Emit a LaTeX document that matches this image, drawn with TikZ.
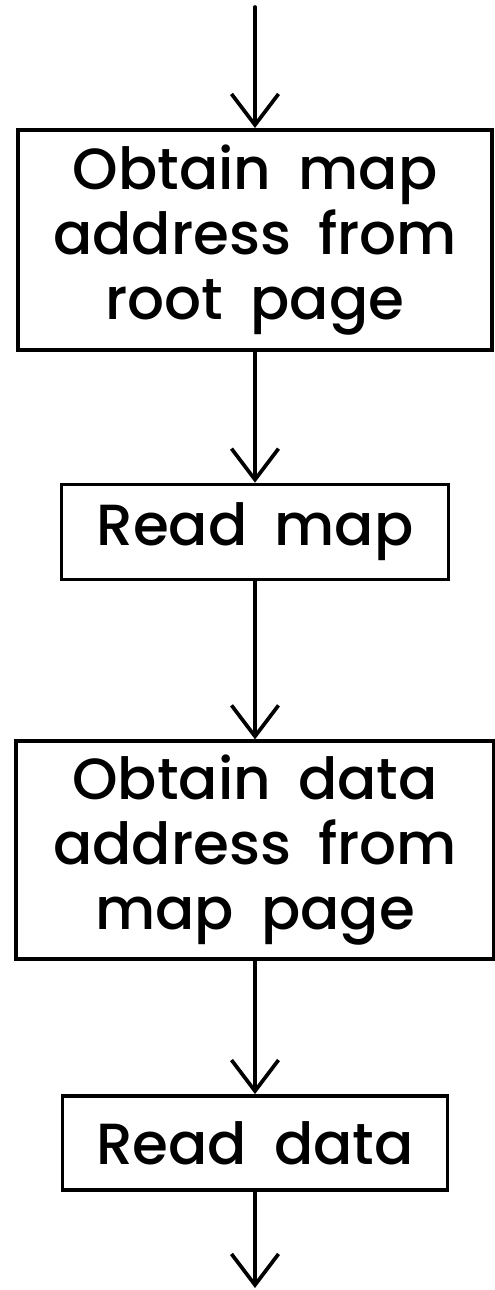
\documentclass[tikz,border=0pt]{standalone}
\usepackage{fontspec}
\setmainfont[WordSpace=1.8,UprightFont=* Medium]{Poppins}
\usetikzlibrary{arrows.meta,positioning}

\begin{document}
\begin{tikzpicture}[
		every node/.style = {shape=rectangle, draw, line width=2.1pt,
			align=center, inner sep=0pt,
			font=\fontsize{33}{37}\selectfont},
		flow/.style = {line width=2.1pt, line cap=round,
			-{Straight Barb[length=0.62cm, width=0.94cm, line width=2.1pt]}}]
		\useasboundingbox (0,0) rectangle (9.9,-25.8);
		\coordinate (in) at (5.1,-0.14);
		\node[minimum width=9.48cm, minimum height=4.4cm, anchor=north] (obtainmap) at (5.1,-2.56)
			{Obtain map\\address from\\root page};
		\node[minimum width=7.74cm, minimum height=1.9cm, below=2.62cm of obtainmap] (readmap) {Read map};
		\node[minimum width=9.56cm, minimum height=4.36cm, below=3.16cm of readmap] (obtaindata)
			{Obtain data\\address from\\map page};
		\node[minimum width=7.7cm, minimum height=1.88cm, below=2.66cm of obtaindata] (readdata) {Read data};
		\coordinate (out) at (5.1,-25.76);
		% the chain of steps, top to bottom
		\draw[flow] (in) -- (obtainmap);
		\draw[flow] (obtainmap) -- (readmap);
		\draw[flow] (readmap) -- (obtaindata);
		\draw[flow] (obtaindata) -- (readdata);
		\draw[flow] (readdata) -- (out);
	\end{tikzpicture}
\end{document}
